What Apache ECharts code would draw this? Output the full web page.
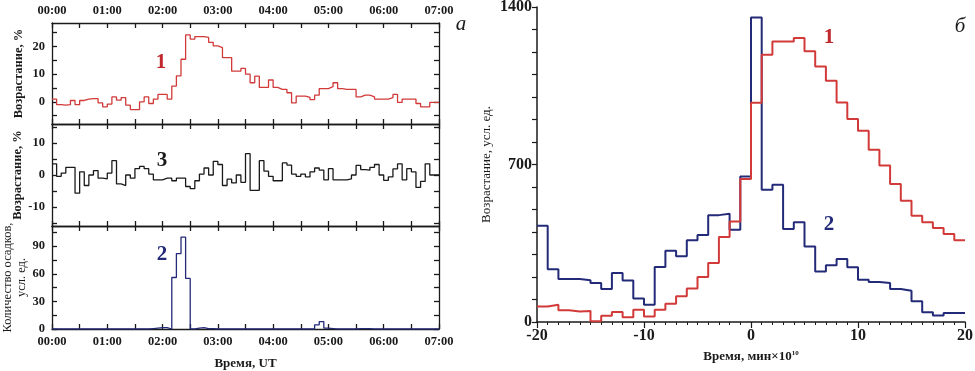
<!DOCTYPE html>
<html>
<head>
<meta charset="utf-8">
<script src="https://cdn.jsdelivr.net/npm/echarts@6/dist/echarts.min.js"></script>
<style>
  html, body { margin: 0; padding: 0; background: #fff; }
  #chart { width: 975px; height: 371px; }
</style>
</head>
<body>
<div id="chart"></div>
<script>
// панель а: 5-минутные интервалы, 00:00 - 07:00
const binMinutes = 5;
const hourLabels = ['00:00', '01:00', '02:00', '03:00', '04:00', '05:00', '06:00', '07:00'];

// 1 - возрастание, %
const rise1 = [
  1, -1, -1.2, -1, 0.5, -1, 0.5, 1, 1.2, 1.2,
  -0.4, -1.8, -0.8, 1.8, 0.6, 1.5, -1.2, -2.8, -2.8, 0,
  1.8, -0.6, 1, 2.7, 2.7, 1, 5.7, 9.4, 15.4, 24.2,
  22.7, 23.6, 23.6, 23.3, 21.5, 20.2, 19.6, 16, 16, 11.1,
  11.1, 12.1, 10, 6.9, 9.3, 5.2, 5.2, 7.9, 5.2, 4.5,
  4.5, 3.3, -0.4, 2.1, 2.1, 1.6, 0.8, 2.4, 4.8, 4.8,
  5.5, 6.9, 4.8, 4.5, 4.5, 4.5, 1.8, 2.4, 2.4, 1.8,
  1, 1, 1, 1.5, 2.7, -0.2, 1, 1, 1, -0.6,
  -1.8, -1.8, -0.2, -0.2
];

// 3 - возрастание, %
const rise3 = [
  3.5, -0.4, 0.6, 2.4, 2.4, -5.7, 1, -3.3, 0, 1.4,
  -1, -1.2, 0.6, 4.5, -2.8, -3.3, 0, -1, 2, 2.7,
  2, 0.3, -1.5, -1.5, -1, -1, -1.8, -1, -1, -3.6,
  -4.3, -1.8, 0.3, 2.2, 0, 4.3, 3.3, -3.3, -1.3, -2.5,
  0, -2.3, 6.7, -4.8, -4.8, 4.5, 1.2, -0.4, -1.8, -1.8,
  3.8, 3.1, 0.3, -0.4, 0.3, -0.6, 1, 2.2, 1.5, -1.5,
  2, -1.5, -1.5, -1.5, -1.2, 0, 3, 1.7, 1.5, 2.4,
  3.3, 0, -1.7, -0.6, 1.9, 3.5, -1.5, 2, 1, -3.9,
  -2, 3.5, 0, 0
];

// 2 - количество осадков, усл. ед.
const precip2 = [
  0, 0, 0, 0, 0, 0, 0, 0, 0, 0,
  0, 0, 0, 0, 0, 0, 0, 0, 0, 0,
  0, 0.5, 1, 1.5, 1.5, 0, 56, 82, 100, 55,
  0, 1, 1.5, 0.5, 0.5, 0, 0, 0, 0, 0,
  0, 0, 0, 0, 0, 0, 0, 0, 0, 0,
  0, 0, 0, 0, 0, 0, 0, 4.5, 8, 1,
  0.5, 0, 0, 0, 0, 0, 0.5, 0.5, 0.5, 0,
  0, 0, 0, 0, 0, 0, 0, 0, 0, 0,
  0, 0, 0, 0
];

// панель б: время, мин×10, интервалы по 1 от -20 до 20
const epochStart = -20;
const epochLabels = [-20, -10, 0, 10, 20];
const epochRed1 = [
  69, 77, 52, 47, 49, 3, 28, 44, 21, 55,
  25, 55, 81, 114, 149, 200, 262, 378, 447, 636,
  975, 1188, 1247, 1247, 1262, 1203, 1136, 1072, 976, 902,
  850, 766, 696, 613, 539, 472, 443, 418, 391, 363
];
const epochBlue2 = [
  428, 235, 191, 191, 186, 173, 147, 218, 184, 104,
  77, 244, 317, 292, 363, 387, 475, 481, 410, 647,
  1353, 588, 610, 413, 443, 336, 224, 252, 280, 243,
  188, 178, 173, 147, 139, 92, 43, 29, 40, 40
];

const RED = '#d23a3a';
const NAVY = '#232a78';
const INK = '#1a1a1a';
const SERIF = '"Liberation Serif", "DejaVu Serif", serif';

// ступенчатая линия: значение держится до начала следующего интервала
const toSteps = (vals, x0, w) => {
  const pts = vals.map((v, i) => [x0 + i * w, v]);
  pts.push([x0 + vals.length * w, vals[vals.length - 1]]);
  return pts;
};

const chart = echarts.init(document.getElementById('chart'));

const hourTicks = hourLabels.map((_, i) => i * 60);
const halfHourTicks = [];
for (let m = 0; m <= 420; m += 30) halfHourTicks.push(m);

const leftPanels = [
  { top: 23, height: 101, min: -8, max: 28.5, ticks: [-5, 0, 5, 10, 15, 20, 25], labels: [0, 10, 20],
    name: 'Возрастание, %', bold: true, gap: 26 },
  { top: 124, height: 102, min: -16, max: 16, ticks: [-15, -10, -5, 0, 5, 10, 15], labels: [-10, 0, 10],
    name: 'Возрастание, %', bold: true, gap: 26 },
  { top: 226, height: 103, min: 0, max: 112, ticks: [0, 15, 30, 45, 60, 75, 90, 105], labels: [0, 30, 60, 90],
    name: 'Количество осадков,\nусл. ед.', bold: false, gap: 22 }
];

const grid = [];
const xAxis = [];
const yAxis = [];

const lineStyle = { color: INK, width: 1.3 };

leftPanels.forEach((p, k) => {
  grid.push({ left: 52, right: 536, top: p.top, height: p.height, outerBoundsMode: 'none' });
  ['bottom', 'top'].forEach(pos => {
    const showLabels = (k === 0 && pos === 'top') || (k === 2 && pos === 'bottom');
    xAxis.push({
      type: 'value', gridIndex: k, position: pos, min: 0, max: 420,
      axisLine: { show: true, onZero: false, lineStyle },
      axisTick: { show: true, inside: true, length: 5, customValues: halfHourTicks, lineStyle },
      axisLabel: {
        show: showLabels, customValues: hourTicks, margin: 6,
        formatter: v => hourLabels[v / 60],
        fontFamily: SERIF, fontWeight: 'bold', fontSize: 12.5, color: INK
      },
      splitLine: { show: false },
      name: (k === 2 && pos === 'bottom') ? 'Время, UT' : '',
      nameLocation: 'middle', nameGap: 28,
      nameTextStyle: { fontFamily: SERIF, fontWeight: 'bold', fontSize: 13, color: INK }
    });
  });
  ['left', 'right'].forEach(pos => {
    yAxis.push({
      type: 'value', gridIndex: k, position: pos, min: p.min, max: p.max,
      axisLine: { show: true, onZero: false, lineStyle },
      axisTick: { show: true, inside: true, length: 5, customValues: p.ticks, lineStyle },
      axisLabel: {
        show: pos === 'left', customValues: p.labels, margin: 7,
        fontFamily: SERIF, fontWeight: 'bold', fontSize: 12.5, color: INK
      },
      splitLine: { show: false },
      name: pos === 'left' ? p.name : '',
      nameLocation: 'middle', nameGap: p.gap,
      nameTextStyle: {
        fontFamily: SERIF, fontWeight: p.bold ? 'bold' : 'normal', fontSize: 12.5,
        color: INK, lineHeight: 14
      }
    });
  });
});

// панель б
grid.push({ left: 537, right: 10, top: 7, bottom: 49, outerBoundsMode: 'none' });
xAxis.push({
  type: 'value', gridIndex: 3, min: -20, max: 20, interval: 10,
  axisLine: { show: true, onZero: false, lineStyle: { color: INK, width: 1.5 } },
  axisTick: { show: true, length: 6, lineStyle: { color: INK, width: 1.2 } },
  minorTick: { show: true, splitNumber: 10, length: 3, lineStyle: { color: INK, width: 1 } },
  axisLabel: {
    customValues: epochLabels, margin: 6, formatter: v => String(v),
    fontFamily: SERIF, fontWeight: 'bold', fontSize: 16, color: INK
  },
  splitLine: { show: false },
  name: '{a|Время, мин×10}{s|10}',
  nameLocation: 'middle', nameGap: 28,
  nameTextStyle: {
    rich: {
      a: { fontFamily: SERIF, fontWeight: 'bold', fontSize: 13, color: INK },
      s: { fontFamily: SERIF, fontWeight: 'bold', fontSize: 7, color: INK, verticalAlign: 'top', padding: [0, 0, 6, 0] }
    }
  }
});
yAxis.push({
  type: 'value', gridIndex: 3, min: 0, max: 1400, interval: 100,
  axisLine: { show: true, onZero: false, lineStyle: { color: INK, width: 1.5 } },
  axisTick: { show: true, length: 5, lineStyle: { color: INK, width: 1.2 } },
  axisLabel: {
    customValues: [0, 700, 1400], margin: 5, formatter: v => String(v),
    fontFamily: SERIF, fontWeight: 'bold', fontSize: 16, color: INK
  },
  splitLine: { show: false },
  name: 'Возрастание, усл. ед.',
  nameLocation: 'middle', nameGap: 44,
  nameTextStyle: { fontFamily: SERIF, fontSize: 13, color: INK }
});

const stepSeries = (data, xi, yi, color, width) => ({
  type: 'line', step: 'end', xAxisIndex: xi, yAxisIndex: yi, data,
  showSymbol: false, symbol: 'none', silent: true, animation: false,
  lineStyle: { color, width }, z: 3
});

const label = (text, x, y, color, style) => ({
  type: 'text', x, y,
  style: {
    text, fill: color, font: style, align: 'center', verticalAlign: 'middle'
  }
});

const option = {
  backgroundColor: '#fff',
  animation: false,
  grid, xAxis, yAxis,
  series: [
    stepSeries(toSteps(rise1, 0, binMinutes), 0, 0, RED, 1.3),
    stepSeries(toSteps(rise3, 0, binMinutes), 2, 2, INK, 1.3),
    stepSeries(toSteps(precip2, 0, binMinutes), 4, 4, NAVY, 1.3),
    stepSeries(toSteps(epochBlue2, epochStart, 1), 6, 6, NAVY, 2),
    stepSeries(toSteps(epochRed1, epochStart, 1), 6, 6, RED, 2)
  ],
  graphic: [
    label('1', 161, 63, '#c0282d', 'bold 21px "Liberation Serif", serif'),
    label('3', 162, 161, INK, 'bold 21px "Liberation Serif", serif'),
    label('2', 162, 255, NAVY, 'bold 21px "Liberation Serif", serif'),
    label('1', 829, 38, '#c0282d', 'bold 21px "Liberation Serif", serif'),
    label('2', 829, 225, NAVY, 'bold 21px "Liberation Serif", serif'),
    label('а', 461, 24, INK, 'italic 21px "Liberation Serif", serif'),
    label('б', 960, 26, INK, 'italic 21px "Liberation Serif", serif')
  ]
};

chart.setOption(option);
</script>
</body>
</html>
